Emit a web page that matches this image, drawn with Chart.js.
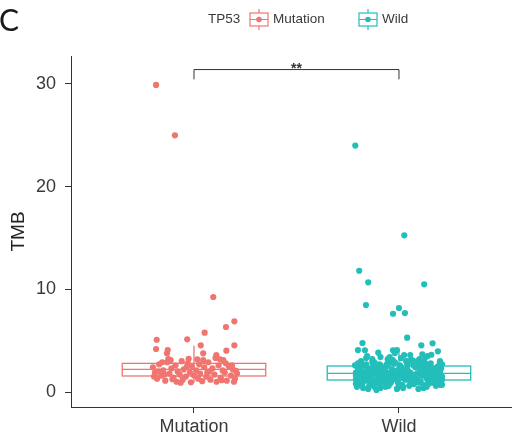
<!DOCTYPE html>
<html>
<head>
<meta charset="utf-8">
<script src="https://cdn.jsdelivr.net/npm/chart.js@4"></script>
<style>
  body { margin: 0; background: #fff; }
  #wrap { width: 515px; height: 442px; position: relative; }
</style>
</head>
<body>
<div id="wrap"><canvas id="tmbChart"></canvas></div>
<script>
// -------------------
// Data
// -------------------
const categories = ['Mutation', 'Wild'];
const legendTitle = 'TP53';
const panelLabel = 'C';
const yTitle = 'TMB';
const yTicks = [0, 10, 20, 30];
const sigLabel = '**';
const sigLevel = [30.45, 31.4];   // bracket foot / bracket top

const groupColors = ['#F07570', '#23BEBA'];

// box stats (q1, median, q3, whiskers)
const boxQ1 = [1.56, 1.17];
const boxMedian = [2.21, 1.82];
const boxQ3 = [2.79, 2.53];
const whiskerLow = [0.9, 0.1];
const whiskerHigh = [4.5, 4.1];

// jittered points: offset from category centre, TMB value
const mutationJitter = [
  -0.185, -0.093, 0.094, 0.197, 0.156, 0.052, -0.182, -0.033, 0.033, 0.197,
  -0.185, -0.128, -0.132, 0.158, 0.045, 0.109, -0.114, -0.026, 0.016, 0.127, 0.143,
  -0.20, -0.19, -0.18, -0.17, -0.16, -0.15, -0.14, -0.13, -0.12, -0.11,
  -0.10, -0.09, -0.085, -0.08, -0.07, -0.06, -0.055, -0.05, -0.04, -0.03,
  -0.02, -0.015, -0.01, 0.0, 0.01, 0.02, 0.025, 0.03, 0.04, 0.05,
  0.06, 0.07, 0.075, 0.08, 0.09, 0.10, 0.11, 0.12, 0.13, 0.14,
  0.15, 0.16, 0.17, 0.18, 0.19, 0.20, 0.21, -0.195, -0.175, -0.145,
  -0.125, -0.105, 0.105, 0.155, 0.195, -0.065, 0.045, 0.135, -0.035, 0.065,
  -0.155, 0.185, 0.205
];
const mutationTMB = [
  29.9, 25.0, 9.25, 6.88, 6.33, 5.78, 5.09, 5.13, 4.55, 4.55,
  4.19, 4.09, 3.77, 4.02, 3.77, 3.6, 3.1, 3.24, 3.18, 3.18, 3.1,
  2.4, 1.9, 1.3, 2.7, 1.6, 2.1, 1.1, 2.9, 1.8, 2.3,
  1.4, 2.6, 1.0, 2.0, 1.7, 3.0, 1.2, 2.2, 1.5, 2.8,
  1.9, 0.95, 2.5, 1.6, 2.1, 1.3, 2.7, 1.8, 1.05, 2.4,
  1.5, 2.9, 2.0, 1.2, 2.3, 1.7, 1.0, 2.6, 1.4, 2.1,
  1.9, 1.1, 2.5, 1.6, 2.2, 1.3, 1.8, 1.5, 2.0, 1.7,
  3.2, 1.25, 3.3, 2.8, 1.0, 0.9, 3.1, 1.15, 2.45, 1.9,
  2.9, 2.6, 2.05
];

const wildJitter = [
  -0.213, 0.026, -0.194, -0.15, 0.123, -0.161, 0.0, -0.029, 0.029,
  -0.178, -0.2, -0.166, -0.101, -0.029, 0.04, 0.164, 0.109, 0.19, -0.01, 0.055, 0.114, 0.158,
  -0.21, -0.17, -0.12, -0.08, -0.03, 0.02, 0.07, 0.11, 0.16, 0.20,
  -0.20, -0.15, -0.11, -0.06, -0.01, 0.04, 0.09, 0.13, 0.18, 0.21,
  -0.19, -0.14, -0.10, -0.05, 0.00, 0.05, 0.10, 0.14, 0.19, -0.16,
  -0.18, -0.13, -0.09, -0.04, 0.01, 0.06, 0.11, 0.15, 0.20, -0.07,
  -0.215, -0.165, -0.115, -0.065, -0.015, 0.035, 0.085, 0.135, 0.185, 0.025,
  -0.205, -0.155, -0.105, -0.055, -0.005, 0.045, 0.095, 0.145, 0.195, -0.025,
  -0.195, -0.145, -0.095, -0.045, 0.005, 0.055, 0.105, 0.155, 0.205, 0.075,
  -0.185, -0.135, -0.085, -0.035, 0.015, 0.065, 0.115, 0.165, 0.21, -0.125,
  -0.175, -0.125, -0.075, -0.025, 0.025, 0.075, 0.125, 0.175, -0.2, 0.14,
  -0.21, -0.16, -0.11, -0.06, -0.01, 0.04, 0.09, 0.14, 0.19, 0.0,
  -0.19, -0.14, -0.09, -0.04, 0.01, 0.06, 0.11, 0.16, 0.21, -0.02,
  -0.18, -0.13, -0.08, -0.03, 0.02, 0.07, 0.12, 0.17, 0.2, 0.03,
  -0.17, -0.12, -0.07, -0.02, 0.03, 0.08, 0.13, 0.18, -0.21, 0.1,
  -0.2, -0.15, -0.1, -0.05, 0.0, 0.05, 0.1, 0.15, 0.2, -0.08,
  -0.185, -0.14, -0.095, -0.05, -0.005, 0.04, 0.085, 0.13, 0.175, 0.21,
  -0.205, -0.16, -0.115, -0.07, -0.025, 0.02, 0.065, 0.11, 0.155, 0.2,
  -0.17, -0.125, -0.08, -0.035, 0.01, 0.055, 0.1, 0.145, 0.19, -0.06,
  -0.195, -0.15, -0.105, -0.06, -0.015, 0.03, 0.075, 0.12, 0.165, 0.205,
  -0.18, -0.135, -0.09, -0.045, 0.0, 0.045, 0.09, 0.135, 0.18, 0.12,
  -0.21, -0.165, -0.12, -0.075, -0.03, 0.015, 0.06, 0.105, 0.15, 0.195,
  -0.155, -0.115, -0.065, -0.02, 0.035, 0.08, 0.125, 0.17, -0.045, 0.095
];
const wildTMB = [
  24.0, 15.26, 11.81, 10.68, 10.49, 8.47, 8.18, 7.62, 7.69,
  4.77, 4.09, 4.06, 3.83, 4.06, 5.29, 4.74, 4.55, 3.96, 4.09, 3.6, 3.67, 3.63,
  1.2, 2.6, 0.5, 1.9, 3.1, 1.4, 0.8, 2.2, 1.7, 2.9,
  0.7, 1.6, 2.4, 1.1, 0.3, 2.7, 1.8, 3.4, 0.9, 1.5,
  2.1, 0.9, 1.3, 2.8, 1.7, 0.6, 2.3, 1.2, 2.5, 3.3,
  1.5, 2.9, 0.4, 1.6, 2.4, 1.0, 3.0, 1.9, 0.7, 2.1,
  2.6, 1.1, 1.8, 0.8, 2.0, 1.3, 2.6, 0.5, 1.4, 3.6,
  0.9, 2.3, 1.5, 3.2, 1.1, 2.0, 0.3, 2.7, 1.9, 1.3,
  1.8, 0.6, 2.7, 1.2, 2.6, 1.6, 1.0, 2.1, 2.3, 1.7,
  3.0, 1.4, 1.0, 2.2, 0.7, 3.1, 1.6, 0.9, 1.2, 2.0,
  0.4, 2.5, 1.9, 1.5, 1.9, 0.8, 2.9, 1.5, 2.3, 2.4,
  1.6, 1.9, 0.2, 2.5, 1.4, 2.3, 1.2, 3.5, 1.1, 0.6,
  2.4, 1.2, 3.4, 0.9, 1.8, 1.1, 2.0, 1.3, 2.7, 3.8,
  1.0, 3.2, 1.7, 2.1, 0.5, 2.6, 0.7, 2.3, 1.7, 1.2,
  2.0, 0.7, 1.4, 2.9, 1.3, 1.5, 1.8, 0.6, 0.8, 3.2,
  2.8, 1.7, 2.1, 0.6, 2.2, 3.0, 0.9, 1.0, 2.0, 1.1,
  1.3, 2.2, 0.8, 1.8, 0.9, 1.6, 2.4, 2.2, 1.3, 0.7,
  0.5, 2.7, 1.1, 2.3, 2.8, 0.4, 1.3, 1.6, 2.8, 3.0,
  1.7, 1.0, 2.3, 1.1, 3.3, 1.9, 2.5, 0.8, 1.5, 1.9,
  2.2, 0.3, 1.6, 2.7, 1.5, 2.1, 1.1, 2.6, 1.9, 1.4,
  0.8, 1.9, 2.6, 1.4, 0.7, 1.2, 3.0, 1.4, 2.1, 0.4,
  1.9, 1.4, 2.9, 1.0, 2.0, 1.7, 0.9, 2.1, 1.2, 2.5,
  3.5, 2.1, 0.5, 1.6, 3.0, 2.4, 0.6, 1.8, 3.4, 1.0
];

// -------------------
// Build datasets
// -------------------
function toPoints(jitter, values, centre) {
  return values.map((v, i) => ({ x: centre + jitter[i], y: v }));
}

const textColor = '#3a3a3a';
const axisColor = '#333333';
const baseFont = 'Liberation Sans, Arial, sans-serif';
const BOX_HALF = 0.35;

// box plots drawn under the points
const boxPlugin = {
  id: 'boxes',
  beforeDatasetsDraw(chart) {
    const { ctx, scales: { x, y } } = chart;
    ctx.save();
    ctx.lineWidth = 1.3;
    categories.forEach((c, i) => {
      const cx = i + 1;
      const l = x.getPixelForValue(cx - BOX_HALF);
      const r = x.getPixelForValue(cx + BOX_HALF);
      const m = x.getPixelForValue(cx);
      ctx.strokeStyle = groupColors[i];
      ctx.beginPath();
      ctx.moveTo(m, y.getPixelForValue(whiskerHigh[i]));
      ctx.lineTo(m, y.getPixelForValue(boxQ3[i]));
      ctx.moveTo(m, y.getPixelForValue(boxQ1[i]));
      ctx.lineTo(m, y.getPixelForValue(whiskerLow[i]));
      ctx.stroke();
      const top = y.getPixelForValue(boxQ3[i]);
      const bot = y.getPixelForValue(boxQ1[i]);
      ctx.fillStyle = '#fff';
      ctx.fillRect(l, top, r - l, bot - top);
      ctx.strokeRect(l, top, r - l, bot - top);
      ctx.beginPath();
      ctx.moveTo(l, y.getPixelForValue(boxMedian[i]));
      ctx.lineTo(r, y.getPixelForValue(boxMedian[i]));
      ctx.stroke();
    });
    ctx.restore();
  }
};

// significance bracket, legend, panel letter
const annotPlugin = {
  id: 'annot',
  afterDraw(chart) {
    const { ctx, scales: { x, y } } = chart;
    ctx.save();
    // bracket
    const x1 = x.getPixelForValue(1), x2 = x.getPixelForValue(2);
    const yf = y.getPixelForValue(sigLevel[0]), yt = y.getPixelForValue(sigLevel[1]);
    ctx.strokeStyle = axisColor;
    ctx.lineWidth = 1;
    ctx.beginPath();
    ctx.moveTo(x1, yf); ctx.lineTo(x1, yt); ctx.lineTo(x2, yt); ctx.lineTo(x2, yf);
    ctx.stroke();
    ctx.fillStyle = '#333';
    ctx.font = 'bold 14px ' + baseFont;
    ctx.textAlign = 'center';
    ctx.textBaseline = 'alphabetic';
    ctx.fillText(sigLabel, (x1 + x2) / 2, 73);

    // panel letter
    ctx.fillStyle = '#1a1a1a';
    ctx.font = '400 30px Lato, sans-serif';
    ctx.textAlign = 'left';
    ctx.textBaseline = 'alphabetic';
    ctx.fillText(panelLabel, -1, 31);

    // legend
    ctx.font = '13.5px ' + baseFont;
    ctx.textBaseline = 'middle';
    ctx.fillStyle = textColor;
    ctx.fillText(legendTitle, 208, 19.5);
    const keyX = [250, 359];
    categories.forEach((c, i) => {
      const kx = keyX[i];
      ctx.strokeStyle = groupColors[i];
      ctx.fillStyle = groupColors[i];
      ctx.lineWidth = 1.2;
      ctx.strokeRect(kx, 13, 18, 13);
      ctx.beginPath();
      ctx.moveTo(kx, 19.5); ctx.lineTo(kx + 18, 19.5);
      ctx.moveTo(kx + 9, 9); ctx.lineTo(kx + 9, 13);
      ctx.moveTo(kx + 9, 26); ctx.lineTo(kx + 9, 30);
      ctx.stroke();
      ctx.beginPath();
      ctx.arc(kx + 9, 19.5, 2.8, 0, Math.PI * 2);
      ctx.fill();
      ctx.fillStyle = textColor;
      ctx.fillText(c, kx + 23, 19.5);
    });
    ctx.restore();
  }
};

const config = {
  type: 'scatter',
  data: {
    datasets: categories.map((c, i) => ({
      label: c,
      data: i === 0 ? toPoints(mutationJitter, mutationTMB, 1) : toPoints(wildJitter, wildTMB, 2),
      backgroundColor: groupColors[i],
      borderWidth: 0,
      pointRadius: 3.1,
      pointHoverRadius: 3.1
    }))
  },
  options: {
    responsive: true,
    maintainAspectRatio: false,
    animation: false,
    layout: { padding: { top: 56, right: 3, left: 0, bottom: 0 } },
    plugins: { legend: { display: false }, tooltip: { enabled: false } },
    scales: {
      x: {
        type: 'linear',
        min: 0.4,
        max: 2.551,
        afterBuildTicks: s => { s.ticks = categories.map((c, i) => ({ value: i + 1 })); },
        afterFit: s => { s.height = 35; },
        ticks: {
          callback: v => categories[v - 1],
          color: textColor,
          font: { family: baseFont, size: 18 },
          padding: 3,
          maxRotation: 0
        },
        grid: { drawOnChartArea: false, drawTicks: true, tickLength: 6, color: axisColor },
        border: { display: true, color: axisColor, width: 1 }
      },
      y: {
        min: -1.46,
        max: 32.72,
        afterBuildTicks: s => { s.ticks = yTicks.map(v => ({ value: v })); },
        afterFit: s => { s.width = 71; },
        ticks: {
          color: textColor,
          font: { family: baseFont, size: 18 },
          padding: 9
        },
        title: {
          display: true,
          text: yTitle,
          color: '#222',
          font: { family: baseFont, size: 19 },
          padding: { top: 7, bottom: 0 }
        },
        grid: { drawOnChartArea: false, drawTicks: true, tickLength: 6, color: axisColor },
        border: { display: true, color: axisColor, width: 1 }
      }
    }
  },
  plugins: [boxPlugin, annotPlugin]
};

new Chart(document.getElementById('tmbChart'), config);
</script>
</body>
</html>
